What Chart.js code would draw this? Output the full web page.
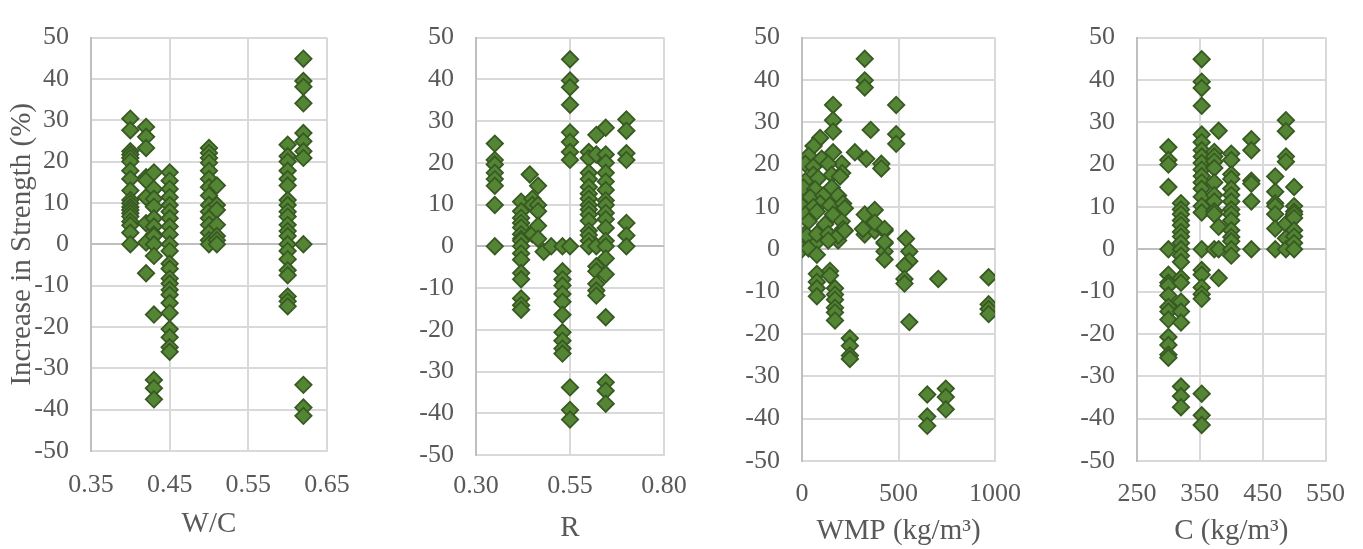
<!DOCTYPE html>
<html>
<head>
<meta charset="utf-8">
<script src="https://cdn.jsdelivr.net/npm/chart.js@4.4.0/dist/chart.umd.min.js"></script>
<style>
html,body{margin:0;padding:0;background:#ffffff;}
#wrap{position:relative;width:1363px;height:549px;overflow:hidden;background:#ffffff;}
#wrap canvas{position:absolute;left:0;top:0;}
</style>
</head>
<body>
<div id="wrap">
<canvas id="p1" width="1363" height="549"></canvas>
<canvas id="p2" width="1363" height="549"></canvas>
<canvas id="p3" width="1363" height="549"></canvas>
<canvas id="p4" width="1363" height="549"></canvas>
</div>
<script>
// ---------- DATA ----------
const yTickValues = [-50, -40, -30, -20, -10, 0, 10, 20, 30, 40, 50];
const yTitle = 'Increase in Strength (%)';

// Panel 1: W/C (columns of x with their y values)
const wcX = [0.40, 0.42, 0.43, 0.45, 0.50, 0.51, 0.60, 0.62];
const wcY = [
  [30.4, 27.6, 22.5, 21.7, 20.9, 20, 17.8, 15.8, 13, 10.7, 9.9, 9, 8.3, 7.5, 6.7, 5.5, 4.6, 2.8, 0],
  [28.4, 26, 23.3, 16.2, 15.5, 11.4, 5.1, 0.4, -7],
  [17.4, 13.4, 11, 9.1, 6.3, 4.3, 2.4, 2, 0, -2.8, -17, -32.8, -34.8, -37.5],
  [17.4, 15.4, 13.4, 11.4, 9.5, 7.9, 6.3, 4.3, 2.4, 0, -1.6, -4.7, -5.9, -8.3, -9.5, -11, -12.2, -14.2, -16.6, -20.5, -22.5, -24.9, -26],
  [23.3, 22.1, 20.9, 19.7, 17.8, 15.8, 13.8, 11.8, 9.5, 7.9, 6.3, 4.7, 2.8, 1, 0],
  [14.2, 9.5, 8.3, 4.7, 2, 1, 0],
  [24.1, 21.3, 20, 17.8, 15.8, 14.2, 10.7, 9.5, 7.9, 6.7, 4.7, 3.2, 2, 0, -1.6, -3.6, -6.3, -7.5, -12.6, -13.8, -15],
  [44.9, 39.5, 38.1, 34.1, 26.9, 24.9, 22.5, 20.9, 0, -34, -39.5, -41.5]
];
const wcTicks = [0.35, 0.45, 0.55, 0.65];
const wcTickLabels = ['0.35', '0.45', '0.55', '0.65'];

// Panel 2: R
const rX = [0.35, 0.42, 0.443, 0.45, 0.465, 0.48, 0.50, 0.53, 0.55, 0.60, 0.62, 0.645, 0.70];
const rY = [
  [24.6, 20.7, 19.6, 17.6, 16.1, 14.5, 9.9, 0],
  [10.7, 8.4, 6.8, 5.6, 4.5, 2.9, 1.8, 1.3, 0, -1.7, -3.2, -6.4, -7.9, -12.5, -14.1, -15.2],
  [17.2],
  [11.4, 9.9, 2.9],
  [14.5, 9.9, 8.4, 4.9, 1.8],
  [-1.3],
  [0],
  [0, -6, -7.9, -9.4, -11.4, -13.3, -16.4, -20.6, -22.6, -24.5, -25.7],
  [44.8, 39.7, 38.1, 33.9, 27.3, 25, 22.6, 20.7, 0, -33.8, -39.2, -41.5],
  [22.6, 21.1, 17.6, 16.1, 14.2, 12.6, 11.4, 9.9, 8.8, 7.6, 6.1, 3.7, 2.7, 1.3, 0],
  [26.7, 22, 0, -4.8, -6, -9, -10.6, -11.8],
  [28.4, 22, 20, 17.6, 15.5, 13.5, 11, 9.9, 8, 6.5, 4.4, 1.3, 0, -2.9, -6.7, -17, -32.6, -34.6, -37.7],
  [30.4, 27.7, 22.3, 20.7, 5.6, 2.6, 0]
];
const rTicks = [0.30, 0.55, 0.80];
const rTickLabels = ['0.30', '0.55', '0.80'];

// Panel 3: WMP (kg/m3) as [x, y] pairs
const wmpPoints = [
  [325,45.0],[325,39.9],[325,38.2],[161,34.1],[488,34.1],[161,30.5],[161,27.8],[356,28.2],
  [488,27.2],[488,24.9],[94,26.3],[60,24.4],[274,22.9],[333,21.4],[411,20.2],[411,19.1],
  [161,22.9],[206,20.2],[208,18],[34,22.1],[17,20.2],[59,19.5],[102,21.4],[136,20.2],
  [59,17.6],[17,16.1],[84,16.8],[154,17.6],[197,17.2],[7,14.6],[68,14.2],[154,14.6],
  [187,12.7],[43,12.3],[110,12.7],[94,10.8],[5,10],[59,10],[145,10.4],[213,10.8],
  [222,9.7],[17,8.2],[77,8.9],[161,8.2],[206,6.6],[34,6.6],[120,5.9],[213,4.8],
  [17,3.6],[59,2.5],[154,2.9],[187,2.1],[77,1.7],[0,0],[26,3.2],[77,3.6],
  [136,3.6],[187,3.2],[222,4.4],[34,0.2],[77,-1.3],[136,2.1],[325,3.5],[377,4.4],
  [428,4.4],[428,1.4],[428,-0.5],[428,-2.4],[539,2.5],[556,-0.5],[556,-2.8],[531,-3.9],
  [531,-7],[531,-8.1],[556,-17.2],[77,-5.8],[77,-7.7],[77,-9.2],[77,-11.1],[145,-5.1],
  [145,-6.2],[171,-9.2],[171,-10.7],[171,-11.9],[171,-13.8],[171,-14.9],[171,-16.8],[248,-21],
  [248,-22.8],[248,-25.1],[248,-25.9],[706,-7],[967,-6.6],[967,-13],[967,-14.1],[967,-15.3],
  [649,-34.3],[649,-39.5],[649,-41.7],[745,-32.9],[745,-34.9],[745,-37.8],[325,8.2],[377,9.3],
  [377,6.3],[316,4.8],[428,4.8],[428,1.7]
];
const wmpTicks = [0, 500, 1000];
const wmpTickLabels = ['0', '500', '1000'];

// Panel 4: C (kg/m3)
const cX = [300, 320, 353, 373, 380, 400, 432, 470, 487, 500];
const cY = [
  [24.1, 21.1, 20, 14.7, 0, -6, -7.9, -8.6, -10.9, -13.6, -14.7, -16.6, -20.7, -22.6, -24.9, -25.6],
  [10.9, 9.4, 8.3, 6.8, 5.7, 4.1, 3, 1.5, 0, -1.5, -3, -6.8, -7.9, -12.4, -14.7, -17.3, -32.4, -34.7, -37.3],
  [44.9, 39.6, 38.1, 33.9, 27.1, 25.3, 23.4, 21.9, 20.4, 18.8, 17.3, 15.8, 14.3, 12.4, 10.2, 8.7, 0, -4.9, -6, -9, -10.6, -11.7, -34.1, -39.2, -41.5],
  [23, 21.9, 20.7, 19.2, 15.8, 12.8, 11.3, 9, 8.3, 0],
  [28, 5.3, 0, -6.8],
  [22.6, 21.1, 17.7, 16.6, 14.3, 12.8, 11.3, 9.4, 8.3, 6.8, 4.5, 2.9, 1.9, 0, -1.5],
  [26, 23.4, 16.2, 15.5, 11.3, 0],
  [17.2, 13.6, 10.9, 10.2, 8.3, 4.9, 0],
  [30.5, 27.9, 21.9, 20.7, 6, 2.6, 0],
  [14.7, 10.2, 8.9, 8.3, 7.4, 4.5, 3, 1.5, 0]
];
const cTicks = [250, 350, 450, 550];
const cTickLabels = ['250', '350', '450', '550'];

// ---------- HELPERS ----------
function fromColumns(xs, ys) {
  const out = [];
  xs.forEach((x, i) => ys[i].forEach(y => out.push({x: x, y: y})));
  return out;
}
function fromPairs(p) { return p.map(v => ({x: v[0], y: v[1]})); }

const W = 1363, H = 549;
const FONT = "'Liberation Serif', 'Times New Roman', serif";
const TXT = '#595959';
const GRID = '#d9d9d9';
const AXIS = '#bfbfbf';

function makePanel(id, pts, xTicks, xLabels, xTitle, g) {
  const yw = g.yw;
  new Chart(document.getElementById(id), {
    type: 'scatter',
    data: { datasets: [{
      data: pts,
      pointStyle: 'rectRot',
      pointRadius: 8.2,
      pointHoverRadius: 8.2,
      pointBorderWidth: 1.8,
      backgroundColor: '#538534',
      borderColor: '#385a22'
    }]},
    options: {
      responsive: false,
      animation: false,
      events: [],
      layout: { padding: { left: g.left - yw, right: W - g.right, top: g.top, bottom: 0 } },
      plugins: { legend: { display: false }, tooltip: { enabled: false } },
      scales: {
        x: {
          type: 'linear',
          min: xTicks[0], max: xTicks[xTicks.length - 1],
          afterBuildTicks: s => { s.ticks = xTicks.map(v => ({value: v})); },
          afterFit: s => { s.height = H - g.bottom; },
          ticks: {
            color: TXT, font: { family: FONT, size: 26 }, padding: g.xTickPad,
            maxRotation: 0, autoSkip: false,
            callback: (v, i) => xLabels[i]
          },
          grid: {
            color: c => (c.index === 0 ? 'rgba(0,0,0,0)' : GRID),
            lineWidth: 2, drawTicks: false
          },
          border: { color: GRID, width: 2 },
          title: {
            display: true, text: xTitle, color: TXT,
            font: { family: FONT, size: 29 },
            padding: { top: 0, bottom: g.xTitlePad }
          }
        },
        y: {
          type: 'linear',
          min: -50, max: 50,
          afterBuildTicks: s => { s.ticks = yTickValues.map(v => ({value: v})); },
          afterFit: s => { s.width = yw; },
          ticks: { color: TXT, font: { family: FONT, size: 26 }, padding: 22 },
          grid: {
            color: c => (c.tick && c.tick.value === 0 ? AXIS : GRID),
            lineWidth: 2, drawTicks: false
          },
          border: { color: AXIS, width: 2 },
          title: {
            display: !!g.yTitle, text: g.yTitle || '', color: TXT,
            font: { family: FONT, size: 29 },
            padding: { top: 5, bottom: 0 }
          }
        }
      }
    }
  });
}

makePanel('p1', fromColumns(wcX, wcY), wcTicks, wcTickLabels, 'W/C',
  { left: 91, right: 327, top: 29, bottom: 451, yw: 91, xTickPad: 19, xTitlePad: 7, yTitle: yTitle });
makePanel('p2', fromColumns(rX, rY), rTicks, rTickLabels, 'R',
  { left: 476, right: 664, top: 24, bottom: 455, yw: 80, xTickPad: 16, xTitlePad: 3 });
makePanel('p3', fromPairs(wmpPoints), wmpTicks, wmpTickLabels, 'WMP (kg/m³)',
  { left: 802, right: 995, top: 18, bottom: 461, yw: 80, xTickPad: 18, xTitlePad: 0 });
makePanel('p4', fromColumns(cX, cY), cTicks, cTickLabels, 'C (kg/m³)',
  { left: 1137, right: 1327, top: 19, bottom: 461, yw: 80, xTickPad: 18, xTitlePad: 0 });
</script>
</body>
</html>
